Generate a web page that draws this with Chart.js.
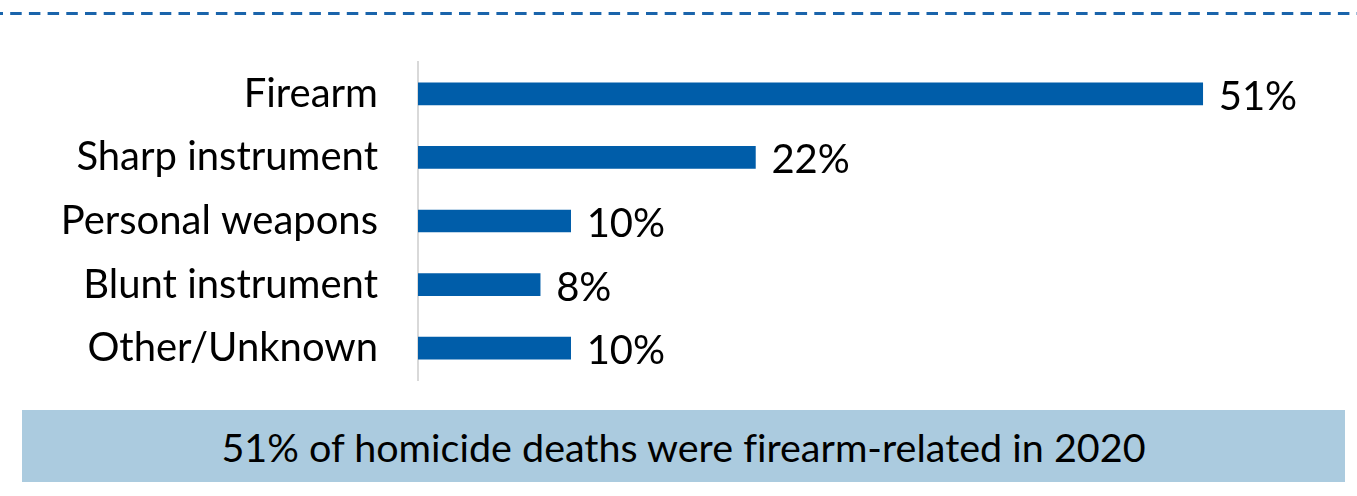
<!DOCTYPE html>
<html>
<head>
<meta charset="utf-8">
<script src="https://cdn.jsdelivr.net/npm/chart.js@4"></script>
<style>
  html, body { margin: 0; padding: 0; background: #ffffff; }
  body { width: 1357px; height: 496px; position: relative; overflow: hidden; font-family: Lato, "Open Sans", sans-serif; }
  #c { position: absolute; left: 0; top: 0; }
  #banner { position: absolute; left: 22px; top: 410px; width: 1323px; height: 72px; background: #abcbdf;
            display: flex; align-items: center; justify-content: center; color: #000; font-size: 39.5px;
            font-family: Lato, sans-serif; font-variant-ligatures: none; }
</style>
</head>
<body>
<canvas id="c" width="1357" height="400"></canvas>
<div id="banner">51% of homicide deaths were firearm-related in 2020</div>
<script>
const categories = ['Firearm', 'Sharp instrument', 'Personal weapons', 'Blunt instrument', 'Other/Unknown'];
const shares = [51.4, 22.1, 10, 8, 10];
const barColor = '#005da9';

const topDash = {
  id: 'topDash',
  beforeDraw(chart) {
    const ctx = chart.ctx;
    ctx.save();
    ctx.strokeStyle = '#1a64ab';
    ctx.lineWidth = 3;
    ctx.setLineDash([11.5, 7.2]);
    ctx.lineDashOffset = 8.5;
    ctx.beginPath();
    ctx.moveTo(0, 13.5);
    ctx.lineTo(chart.width, 13.5);
    ctx.stroke();
    ctx.restore();
  }
};

const valueLabels = {
  id: 'valueLabels',
  afterDatasetsDraw(chart) {
    const ctx = chart.ctx;
    const meta = chart.getDatasetMeta(0);
    ctx.save();
    ctx.fillStyle = '#000';
    ctx.font = '40px Lato, sans-serif';
    ctx.textAlign = 'left';
    ctx.textBaseline = 'middle';
    meta.data.forEach((bar, i) => {
      ctx.fillText(Math.round(shares[i]) + '%', bar.x + 16, bar.y + 3);
    });
    ctx.restore();
  }
};

new Chart(document.getElementById('c'), {
  type: 'bar',
  data: {
    labels: categories,
    datasets: [{
      data: shares,
      backgroundColor: barColor,
      borderWidth: 0,
      barThickness: 22
    }]
  },
  options: {
    indexAxis: 'y',
    responsive: false,
    maintainAspectRatio: false,
    devicePixelRatio: 1,
    animation: false,
    layout: { padding: { top: 62, bottom: 20, right: 23, left: 0 } },
    plugins: { legend: { display: false }, tooltip: { enabled: false } },
    scales: {
      x: { display: false, min: 0, max: 60 },
      y: {
        grid: { display: false, drawTicks: false },
        border: { display: true, color: '#d9d9d9', width: 2 },
        ticks: { color: '#000', padding: 40, font: { family: 'Lato', size: 40 } },
        afterFit(scale) { scale.width = 418; scale.paddingTop = 0; scale.paddingBottom = 0; }
      }
    }
  },
  plugins: [topDash, valueLabels]
});
</script>
</body>
</html>
